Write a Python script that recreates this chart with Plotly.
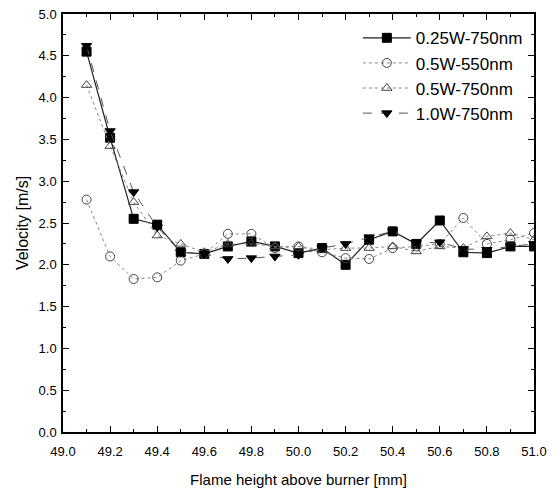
import plotly.graph_objects as go

height = [49.1, 49.2, 49.3, 49.4, 49.5, 49.6, 49.7, 49.8, 49.9, 50.0,
          50.1, 50.2, 50.3, 50.4, 50.5, 50.6, 50.7, 50.8, 50.9, 51.0]

v_025w_750 = [4.55, 3.52, 2.55, 2.48, 2.15, 2.13, 2.22, 2.28, 2.22, 2.14,
              2.20, 2.00, 2.30, 2.40, 2.25, 2.53, 2.15, 2.14, 2.22, 2.22]
v_05w_550 = [2.78, 2.10, 1.83, 1.85, 2.05, 2.13, 2.37, 2.37, 2.20, 2.22,
             2.15, 2.08, 2.07, 2.20, 2.22, 2.25, 2.56, 2.25, 2.30, 2.38]
v_05w_750 = [4.15, 3.42, 2.75, 2.35, 2.25, 2.15, 2.25, 2.25, 2.22, 2.22,
             2.18, 2.20, 2.20, 2.22, 2.16, 2.22, 2.20, 2.34, 2.38, 2.30]
v_10w_750 = [4.62, 3.60, 2.87, 2.45, 2.15, 2.13, 2.07, 2.08, 2.10, 2.12,
             2.20, 2.25, 2.33, 2.40, 2.26, 2.27, 2.19, 2.18, 2.22, 2.25]

series = [
    ("0.25W-750nm", v_025w_750, "square", "black", "#222", "solid", 1.2),
    ("0.5W-550nm", v_05w_550, "circle-open", "#444", "#888", "dot", 1.0),
    ("0.5W-750nm", v_05w_750, "triangle-up-open", "#444", "#888", "dot", 1.0),
    ("1.0W-750nm", v_10w_750, "triangle-down", "black", "#555", "dash", 1.0),
]

fig = go.Figure()
for name, vals, sym, mcol, lcol, dash, lw in series:
    fig.add_trace(go.Scatter(
        x=height, y=vals, name=name, mode="lines+markers",
        line=dict(color=lcol, dash=dash, width=lw),
        marker=dict(symbol=sym, size=9, color=mcol,
                    line=dict(color=mcol, width=1)),
    ))

axis_common = dict(
    showgrid=False, zeroline=False, showline=True, linecolor="black",
    linewidth=1.5, mirror="ticks", ticks="inside", ticklen=6,
    tickcolor="black", tickfont=dict(family="Liberation Sans", size=13, color="black"),
    automargin=False, ticklabeloverflow="allow",
)

fig.update_layout(
    width=560, height=496,
    margin=dict(l=63, r=26, t=14, b=64),
    paper_bgcolor="white", plot_bgcolor="white",
    font=dict(family="Liberation Sans", color="black"),
    legend=dict(x=0.626, y=0.985, xanchor="left", yanchor="top",
                bgcolor="rgba(0,0,0,0)", font=dict(size=17),
                tracegroupgap=0, itemwidth=48),
    showlegend=True,
)
fig.update_xaxes(range=[49.0, 51.0], dtick=0.2, tickformat=".1f",
                 ticklabelstandoff=7,
                 minor=dict(dtick=0.1, ticks="inside", ticklen=3, tickcolor="black"),
                 title=dict(text="Flame height above burner [mm]", font=dict(size=15), standoff=16),
                 **axis_common)
fig.update_yaxes(range=[0, 5.0], dtick=0.5, tickformat=".1f",
                 ticklabelstandoff=2,
                 minor=dict(dtick=0.25, ticks="inside", ticklen=3, tickcolor="black"),
                 title=dict(text="Velocity [m/s]", font=dict(size=16), standoff=6),
                 **axis_common)

fig.write_html("out.html")
